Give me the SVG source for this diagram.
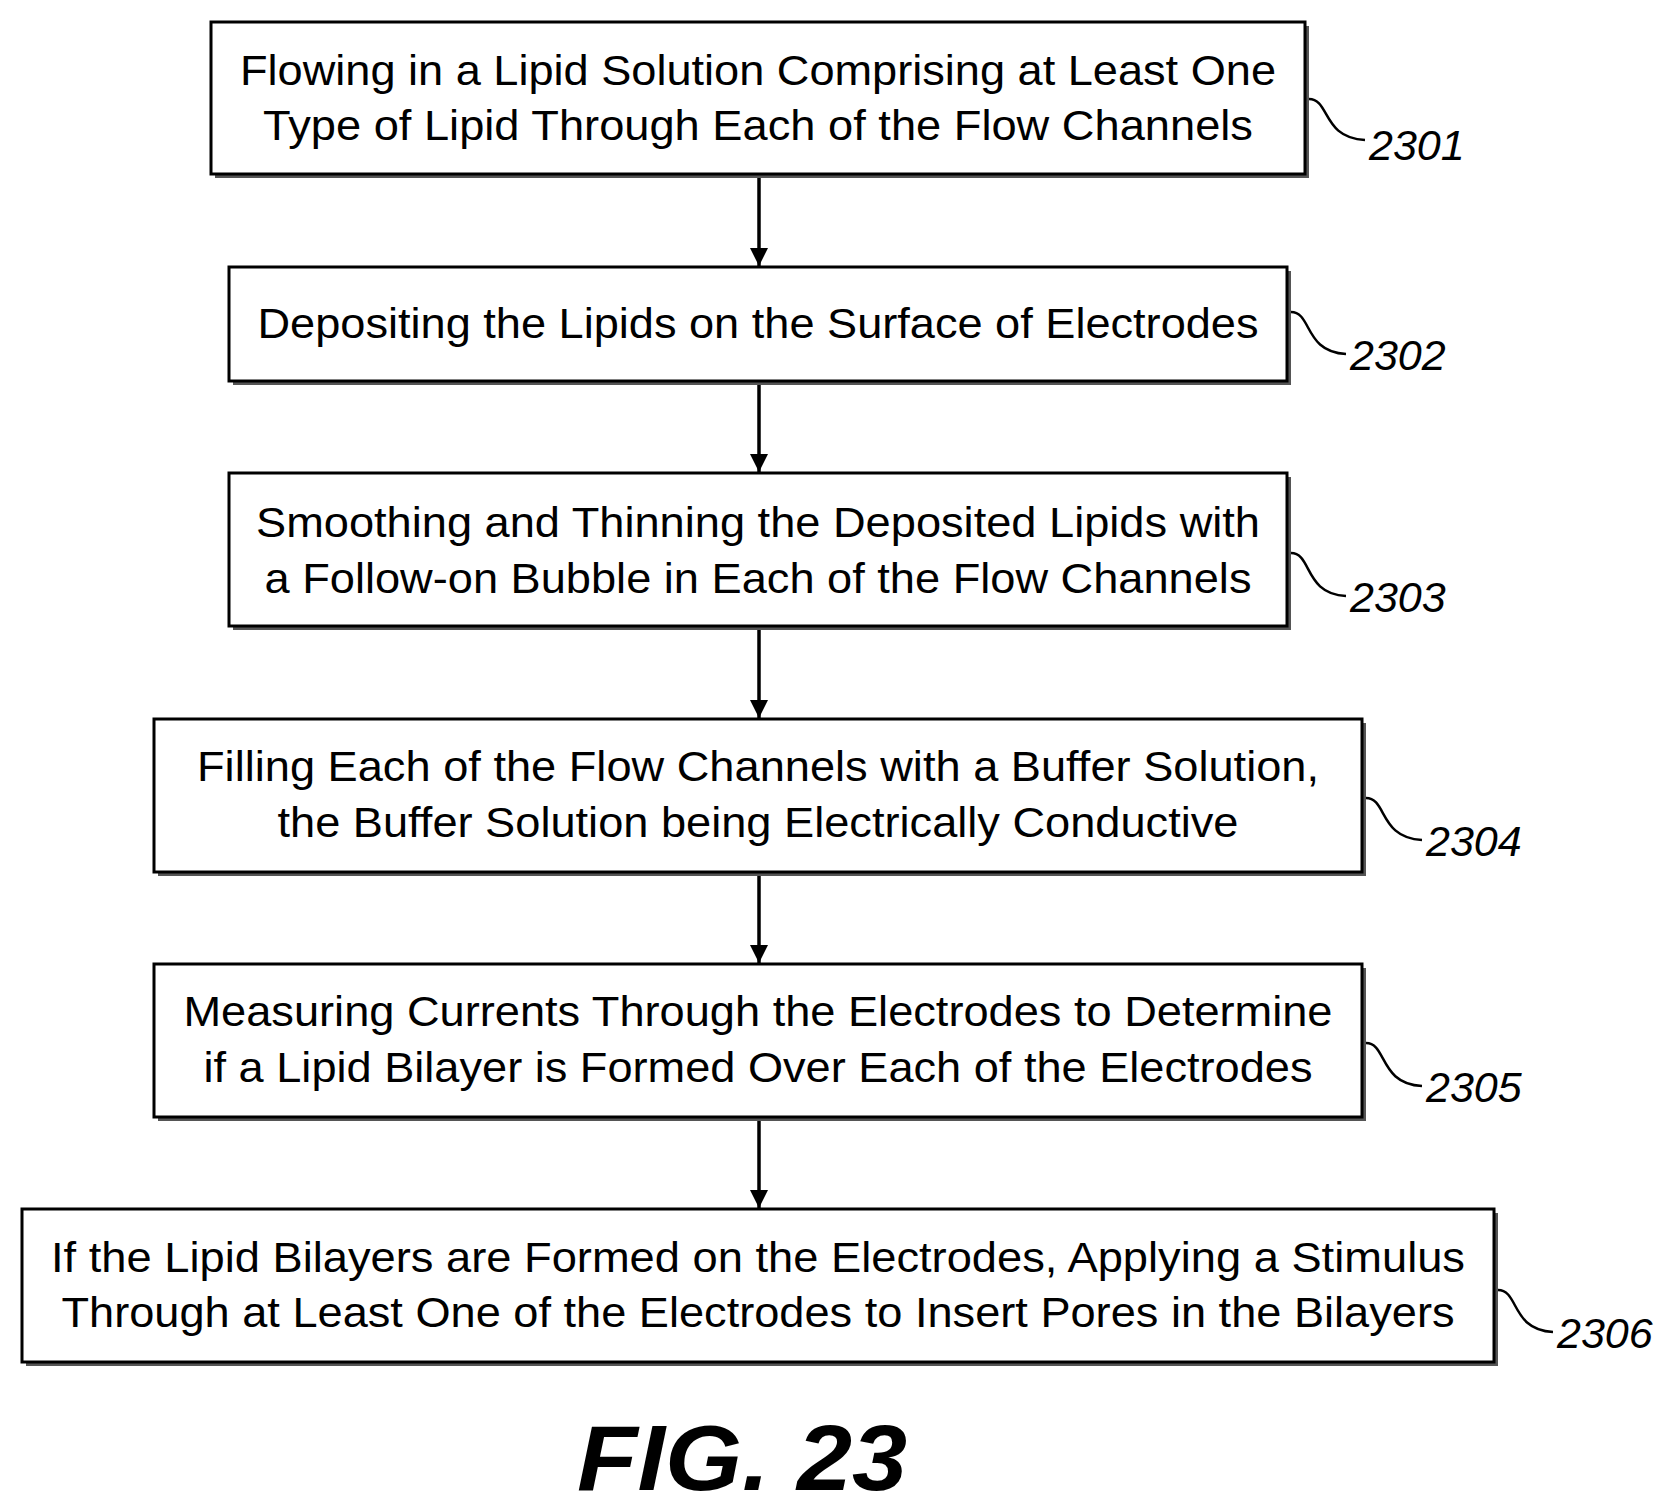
<svg xmlns="http://www.w3.org/2000/svg" width="1679" height="1509" viewBox="0 0 1679 1509">
<style>
.box{fill:#fff;stroke:#000;stroke-width:3}
.sh{fill:#555}
.t{font-family:"Liberation Sans",Arial,sans-serif;font-size:43px;text-anchor:middle;fill:#000}
.lb{font-family:"Liberation Sans",Arial,sans-serif;font-size:43px;font-style:italic;fill:#000}
.c{fill:none;stroke:#000;stroke-width:2.5}
.a{stroke:#000;stroke-width:3.5;fill:none;marker-end:url(#ar)}
</style>
<defs><marker id="ar" markerWidth="10" markerHeight="12" refX="9" refY="6" orient="auto" markerUnits="userSpaceOnUse"><path d="M0,0 L10,6 L0,12 Z" fill="#000"/></marker>
<marker id="ar2" viewBox="0 0 10 10" refX="10" refY="5" markerWidth="8" markerHeight="8" orient="auto"><path d="M0,0L10,5L0,10Z"/></marker></defs>
<rect width="1679" height="1509" fill="#fff"/>
<g id="connectors">
<line class="a" x1="759" y1="178" x2="759" y2="266" style="marker-end:none"/><path d="M750,248 L759,266 L768,248 Z"/>
<line class="a" x1="759" y1="385" x2="759" y2="472" style="marker-end:none"/><path d="M750,454 L759,472 L768,454 Z"/>
<line class="a" x1="759" y1="630" x2="759" y2="718" style="marker-end:none"/><path d="M750,700 L759,718 L768,700 Z"/>
<line class="a" x1="759" y1="876" x2="759" y2="963" style="marker-end:none"/><path d="M750,945 L759,963 L768,945 Z"/>
<line class="a" x1="759" y1="1121" x2="759" y2="1208" style="marker-end:none"/><path d="M750,1190 L759,1208 L768,1190 Z"/>
</g>
<g id="n2301"><rect class="sh" x="215" y="26" width="1094" height="152"/><rect class="box" x="211" y="22" width="1094" height="152"/>
<text class="t" x="758" y="85" textLength="1036" lengthAdjust="spacingAndGlyphs">Flowing in a Lipid Solution Comprising at Least One</text>
<text class="t" x="758" y="140" textLength="990" lengthAdjust="spacingAndGlyphs">Type of Lipid Through Each of the Flow Channels</text>
<path class="c" d="M1309,99 C1330,99 1322,138 1365,140"/><text class="lb" x="1369" y="160">2301</text></g>
<g id="n2302"><rect class="sh" x="233" y="271" width="1058" height="114"/><rect class="box" x="229" y="267" width="1058" height="114"/>
<text class="t" x="758" y="338" textLength="1001" lengthAdjust="spacingAndGlyphs">Depositing the Lipids on the Surface of Electrodes</text>
<path class="c" d="M1291,312 C1312,312 1304,352 1346,354"/><text class="lb" x="1350" y="370">2302</text></g>
<g id="n2303"><rect class="sh" x="233" y="477" width="1058" height="153"/><rect class="box" x="229" y="473" width="1058" height="153"/>
<text class="t" x="758" y="537" textLength="1004" lengthAdjust="spacingAndGlyphs">Smoothing and Thinning the Deposited Lipids with</text>
<text class="t" x="758" y="593" textLength="987" lengthAdjust="spacingAndGlyphs">a Follow-on Bubble in Each of the Flow Channels</text>
<path class="c" d="M1291,553 C1312,553 1304,594 1346,596"/><text class="lb" x="1350" y="612">2303</text></g>
<g id="n2304"><rect class="sh" x="158" y="723" width="1208" height="153"/><rect class="box" x="154" y="719" width="1208" height="153"/>
<text class="t" x="758" y="781" textLength="1122" lengthAdjust="spacingAndGlyphs">Filling Each of the Flow Channels with a Buffer Solution,</text>
<text class="t" x="758" y="837" textLength="961" lengthAdjust="spacingAndGlyphs">the Buffer Solution being Electrically Conductive</text>
<path class="c" d="M1366,798 C1387,798 1379,838 1422,840"/><text class="lb" x="1426" y="856">2304</text></g>
<g id="n2305"><rect class="sh" x="158" y="968" width="1208" height="153"/><rect class="box" x="154" y="964" width="1208" height="153"/>
<text class="t" x="758" y="1026" textLength="1149" lengthAdjust="spacingAndGlyphs">Measuring Currents Through the Electrodes to Determine</text>
<text class="t" x="758" y="1082" textLength="1109" lengthAdjust="spacingAndGlyphs">if a Lipid Bilayer is Formed Over Each of the Electrodes</text>
<path class="c" d="M1366,1043 C1387,1043 1379,1084 1422,1086"/><text class="lb" x="1426" y="1102">2305</text></g>
<g id="n2306"><rect class="sh" x="26" y="1213" width="1472" height="153"/><rect class="box" x="22" y="1209" width="1472" height="153"/>
<text class="t" x="758" y="1272" textLength="1414" lengthAdjust="spacingAndGlyphs">If the Lipid Bilayers are Formed on the Electrodes, Applying a Stimulus</text>
<text class="t" x="758" y="1327" textLength="1393" lengthAdjust="spacingAndGlyphs">Through at Least One of the Electrodes to Insert Pores in the Bilayers</text>
<path class="c" d="M1498,1290 C1519,1290 1511,1330 1553,1332"/><text class="lb" x="1557" y="1348">2306</text></g>
<text x="742" y="1490" text-anchor="middle" font-family="Liberation Sans,Arial,sans-serif" font-size="92" font-weight="bold" font-style="italic" textLength="330" lengthAdjust="spacingAndGlyphs">FIG. 23</text>
</svg>
